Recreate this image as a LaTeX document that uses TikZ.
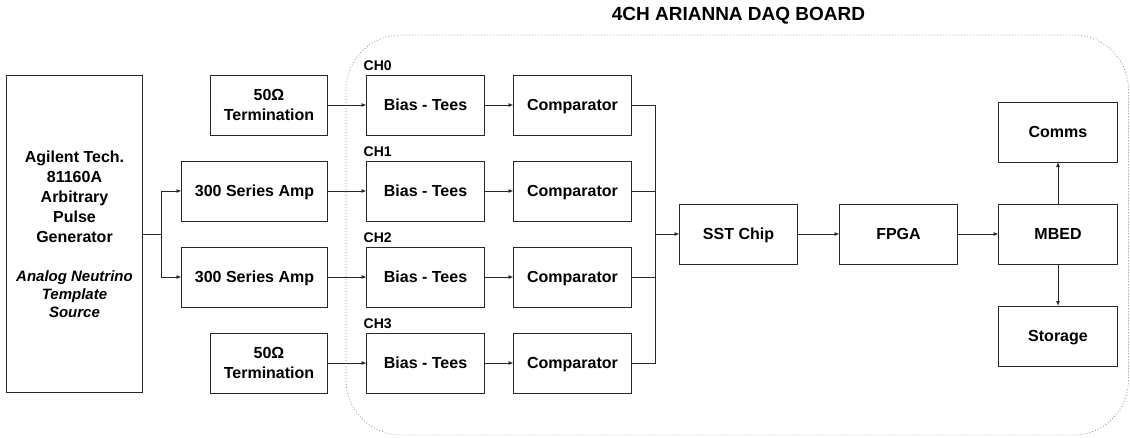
\documentclass[tikz,border=0pt]{standalone}
\usepackage{fontspec}
\setmainfont{Liberation Sans}
\usetikzlibrary{positioning,calc,arrows.meta}
\definecolor{boxline}{RGB}{40,40,40}
\definecolor{dotgray}{RGB}{140,140,140}

\begin{document}
\begin{tikzpicture}[
    x=1pt, y=1pt,
    font=\fontsize{16}{20}\selectfont\bfseries, >={Latex[length=5pt,width=4pt]},
    box/.style={draw=boxline, line width=1pt, align=center, minimum width=118pt, minimum height=60pt, inner sep=2pt, outer sep=0pt, text depth=0pt},
    chlbl/.style={font=\fontsize{14}{16}\selectfont\bfseries, inner sep=1pt, anchor=south west},
    wire/.style={draw=boxline, line width=0.9pt}
  ]
    \useasboundingbox (0,0) rectangle (1130,-437);

    % --- DAQ board outline ---
    \draw[dotgray, line width=0.8pt, dash pattern=on 0.8pt off 2.2pt, rounded corners=55pt] (346,-35) rectangle (1128.5,-435);
    \node[font=\fontsize{19}{22}\selectfont\bfseries] (title) at (738.5,-15.5) {4CH ARIANNA DAQ BOARD};

    % --- channels ---
    \node[box] (bt0) at (425.5,-105) {Bias - Tees};
    \node[box, below=26pt of bt0] (bt1) {Bias - Tees};
    \node[box, below=26pt of bt1] (bt2) {Bias - Tees};
    \node[box, below=26pt of bt2] (bt3) {Bias - Tees};
    \node[box, right=29pt of bt0] (cp0) {Comparator};
    \node[box, right=29pt of bt1] (cp1) {Comparator};
    \node[box, right=29pt of bt2] (cp2) {Comparator};
    \node[box, right=29pt of bt3] (cp3) {Comparator};
    \node[chlbl] (ch0) at ([xshift=-4pt,yshift=3pt]bt0.north west) {CH0};
    \node[chlbl] (ch1) at ([xshift=-4pt,yshift=3pt]bt1.north west) {CH1};
    \node[chlbl] (ch2) at ([xshift=-4pt,yshift=3pt]bt2.north west) {CH2};
    \node[chlbl] (ch3) at ([xshift=-4pt,yshift=3pt]bt3.north west) {CH3};

    % --- inputs ---
    \node[box, minimum width=117pt, left=39pt of bt0] (term0) {50Ω\\Termination};
    \node[box, minimum width=146pt, left=39pt of bt1] (amp1)  {300 Series Amp};
    \node[box, minimum width=146pt, left=39pt of bt2] (amp2)  {300 Series Amp};
    \node[box, minimum width=117pt, left=39pt of bt3] (term3) {50Ω\\Termination};
    \node[box, minimum width=136pt, minimum height=317pt, anchor=east] (gen)
        at ($(amp1.west)!0.5!(amp2.west)+(-39pt,0)$)
        {Agilent Tech.\\81160A\\Arbitrary\\Pulse\\Generator\\[19pt]
         \fontsize{15}{18}\selectfont\itshape Analog Neutrino\\[-2pt]
         \fontsize{15}{18}\selectfont\itshape Template\\[-2pt]
         \fontsize{15}{18}\selectfont\itshape Source};

    % --- readout ---
    \node[box, anchor=west] (sst) at ($(cp1.east)!0.5!(cp2.east)+(48pt,0)$) {SST Chip};
    \node[box, right=42pt of sst] (fpga) {FPGA};
    \node[box, minimum width=119pt, right=41pt of fpga] (mbed) {MBED};
    \node[box, minimum width=119pt, above=42pt of mbed] (comms) {Comms};
    \node[box, minimum width=119pt, below=42pt of mbed] (store) {Storage};

    % Generator -> amps
    \coordinate (split) at ($(gen.east)+(19pt,0)$);
    \draw[wire] (gen.east) -- (split);
    \draw[wire,->] (split) |- (amp1);
    \draw[wire,->] (split) |- (amp2);
    % inputs -> bias tees
    \draw[wire,->] (term0) -- (bt0);
    \draw[wire,->] (amp1) -- (bt1);
    \draw[wire,->] (amp2) -- (bt2);
    \draw[wire,->] (term3) -- (bt3);
    % bias tees -> comparators
    \draw[wire,->] (bt0) -- (cp0);
    \draw[wire,->] (bt1) -- (cp1);
    \draw[wire,->] (bt2) -- (cp2);
    \draw[wire,->] (bt3) -- (cp3);
    % comparators -> SST chip
    \coordinate (bus) at ($(cp0.east)+(24pt,0)$);
    \draw[wire] (cp0.east) -- (bus) -- (bus |- cp3.east) -- (cp3.east);
    \draw[wire] (cp1.east) -- (bus |- cp1.east);
    \draw[wire] (cp2.east) -- (bus |- cp2.east);
    \draw[wire,->] (bus |- sst.west) -- (sst.west);
    % SST -> FPGA -> MBED
    \draw[wire,->] (sst) -- (fpga);
    \draw[wire,->] (fpga) -- (mbed);
    \draw[wire,->] (mbed) -- (comms);
    \draw[wire,->] (mbed) -- (store);
  \end{tikzpicture}
\end{document}
